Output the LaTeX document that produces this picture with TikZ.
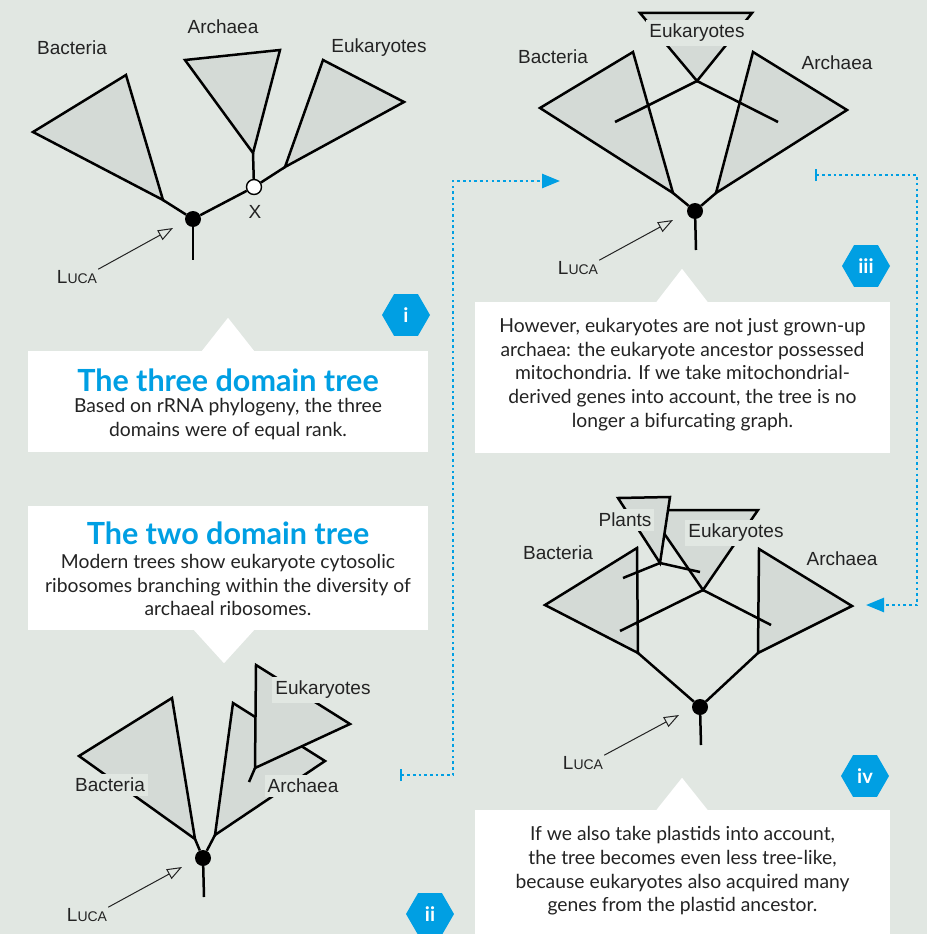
\documentclass[tikz,border=0pt]{standalone}
\usepackage{fontspec}
\setmainfont{Lato}
\newfontfamily\treefont{Liberation Sans}
\usepackage{tikz}
\usetikzlibrary{arrows.meta, shapes.geometric, positioning}
\definecolor{paper}{RGB}{225,231,226}
\definecolor{cladegray}{RGB}{212,218,214}
\definecolor{sciblue}{RGB}{0,159,227}
\definecolor{ink}{RGB}{35,35,35}
\newcommand{\luca}{L{\fontsize{14}{14}\selectfont UCA}}

\begin{document}
\begin{tikzpicture}[x=1pt, y=-1pt]
	% ------------------------------------------------------------------
	% BACKGROUND
	% ------------------------------------------------------------------
	\fill[paper] (0,0) rectangle (927,934);
	\useasboundingbox (0,0) rectangle (927,934);
	
	% ------------------------------------------------------------------
	% STYLE DEFINITIONS
	% ------------------------------------------------------------------
	\tikzset{
		clade/.style     = {draw=black, fill=cladegray, line width=2.5pt, line join=miter},
		branch/.style    = {line width=2.5pt},
		lca/.style       = {circle, fill=black, inner sep=0pt, minimum size=16pt},
		split/.style     = {circle, draw=black, fill=white, line width=1.4pt, inner sep=0pt, minimum size=15pt},
		taxon/.style     = {font=\treefont\fontsize{19}{20}\selectfont, text=ink, inner sep=2pt},
		taxonbg/.style   = {taxon, fill=paper, inner xsep=3pt, inner ysep=4pt},
		lucalabel/.style = {font=\treefont\fontsize{19}{19}\selectfont, text=ink, inner sep=1pt},
		lucaarrow/.style = {draw=ink, line width=1pt, -{Triangle[open, length=15pt, width=11pt]}},
		badge/.style     = {regular polygon, regular polygon sides=6, fill=sciblue, minimum size=48pt,
		                    inner sep=0pt, text=white, font=\bfseries\fontsize{20}{20}\selectfont},
		card/.style      = {fill=white, inner sep=0pt},
		title/.style     = {text=sciblue, font=\bfseries\fontsize{30.5}{31}\selectfont},
		blurb/.style     = {align=center, text=ink, font=\fontsize{19.3}{23.7}\selectfont},
		flow/.style      = {draw=sciblue, line width=2.6pt, dash pattern=on 2.6pt off 3.1pt,
		                    {Bar[width=12pt, line width=2pt]}-{Triangle[length=18pt, width=14pt]}}
	}
	
	% ------------------------------------------------------------------
	% (i) THREE DOMAIN TREE
	% ------------------------------------------------------------------
	\node[lca] (lca-i) at (193,219) {};
	\node[split] (x-i) at (254,187) {};
	\coordinate (root-i) at (193,260);
	\coordinate (bac-i) at (163,200);
	\coordinate (arc-i) at (253,153);
	\coordinate (euk-i) at (285,167);
	\draw[clade] (33,132) -- (126,75) -- (bac-i) -- cycle;
	\draw[clade] (185,60) -- (280,50) -- (arc-i) -- cycle;
	\draw[clade] (323,60) -- (404,102) -- (euk-i) -- cycle;
	\draw[branch] (lca-i) -- (root-i);
	\draw[branch] (lca-i) -- (bac-i);
	\draw[branch] (lca-i) -- (x-i);
	\draw[branch] (x-i) -- (arc-i);
	\draw[branch] (x-i) -- (euk-i);
	\node[taxon] (bac-i-lab) at (72,48) {Bacteria};
	\node[taxon] (arc-i-lab) at (223,27) {Archaea};
	\node[taxon] (euk-i-lab) at (379,48) {Eukaryotes};
	\node[taxon] (x-i-lab) at (255,212) {X};
	% LUCA pointer
	\node[lucalabel] (luca-i) at (77,277) {\luca};
	\coordinate (luca-i-tip) at (173,228);
	\draw[lucaarrow] (luca-i.north east) -- (luca-i-tip);
	\node[badge] (badge-i) at (406,315) {i};
	
	% caption box (i)
	\node[card, minimum width=400pt, minimum height=101pt] (card-i) at (228,401.5) {};
	\fill[white] ([xshift=-26pt]card-i.north) -- ([yshift=33pt]card-i.north) -- ([xshift=26pt]card-i.north) -- cycle;
	\node[title] (title-i) at (228,380) {The three domain tree};
	\node[blurb] (blurb-i) at (228,419) {Based on rRNA phylogeny, the three\\domains were of equal rank.};
	
	% ------------------------------------------------------------------
	% (ii) TWO DOMAIN TREE
	% ------------------------------------------------------------------
	\node[card, minimum width=400pt, minimum height=124pt] (card-ii) at (228,568) {};
	\fill[white] ([xshift=-34pt]card-ii.south) -- ([xshift=-4pt, yshift=-33pt]card-ii.south) -- ([xshift=26pt]card-ii.south) -- cycle;
	\node[title] (title-ii) at (228,533) {The two domain tree};
	\node[blurb] (blurb-ii) at (228,585) {Modern trees show eukaryote cytosolic\\ribosomes branching within the diversity of\\archaeal ribosomes.};
	
	\node[lca] (lca-ii) at (203,858) {};
	\coordinate (root-ii) at (204,897);
	\coordinate (bac-ii) at (195,839);
	\coordinate (arc-ii) at (215,835);
	\coordinate (euk-ii) at (255,768);
	\coordinate (euk-ii-stem) at (249,782);
	\draw[clade] (79,756) -- (172,698) -- (bac-ii) -- cycle;
	\draw[clade] (233,703) -- (325,761) -- (arc-ii) -- cycle;
	\draw[clade] (256,665) -- (350,724) -- (euk-ii) -- cycle;
	\draw[branch] (euk-ii-stem) -- (euk-ii);
	\draw[branch] (lca-ii) -- (root-ii);
	\draw[branch] (lca-ii) -- (bac-ii);
	\draw[branch] (lca-ii) -- (arc-ii);
	\node[taxonbg] (bac-ii-lab) at (110,785) {Bacteria};
	\node[taxonbg] (arc-ii-lab) at (303,786) {Archaea};
	\node[taxonbg] (euk-ii-lab) at (323,690) {Eukaryotes};
	\node[lucalabel] (luca-ii) at (87,915) {\luca};
	\coordinate (luca-ii-tip) at (182,867);
	\draw[lucaarrow] (luca-ii.north east) -- (luca-ii-tip);
	\node[badge] (badge-ii) at (430,914) {ii};
	
	% ------------------------------------------------------------------
	% (iii) MITOCHONDRIA
	% ------------------------------------------------------------------
	\node[lca] (lca-iii) at (695,211) {};
	\coordinate (root-iii) at (696,250);
	\coordinate (bac-iii) at (673,193);
	\coordinate (arc-iii) at (716,193);
	\coordinate (euk-iii) at (697,81);
	\draw[clade] (540,108) -- (633,52) -- (bac-iii) -- cycle;
	\draw[clade] (753,52) -- (847,110) -- (arc-iii) -- cycle;
	\draw[clade] (640,13) -- (752,13) -- (euk-iii) -- cycle;
	\draw[branch] (euk-iii) -- (615,122);
	\draw[branch] (euk-iii) -- (778,122);
	\draw[branch] (lca-iii) -- (root-iii);
	\draw[branch] (lca-iii) -- (bac-iii);
	\draw[branch] (lca-iii) -- (arc-iii);
	\node[taxon] (bac-iii-lab) at (553,57) {Bacteria};
	\node[taxon] (arc-iii-lab) at (837,63) {Archaea};
	\node[taxonbg] (euk-iii-lab) at (697,33) {Eukaryotes};
	\node[lucalabel] (luca-iii) at (578,268) {\luca};
	\coordinate (luca-iii-tip) at (673,220);
	\draw[lucaarrow] (luca-iii.north east) -- (luca-iii-tip);
	\node[badge] (badge-iii) at (866,266) {iii};
	
	% caption box (iii)
	\node[card, minimum width=415pt, minimum height=151pt] (card-iii) at (682.5,377.5) {};
	\fill[white] ([xshift=-26pt]card-iii.north) -- ([xshift=-0.5pt, yshift=33pt]card-iii.north) -- ([xshift=25pt]card-iii.north) -- cycle;
	\node[blurb] (blurb-iii) at (682.5,374.5) {However, eukaryotes are not just grown-up\\archaea: the eukaryote ancestor possessed\\mitochondria. If we take mitochondrial-\\derived genes into account, the tree is no\\longer a bifurcating graph.};
	
	% ------------------------------------------------------------------
	% (iv) PLASTIDS
	% ------------------------------------------------------------------
	\node[lca] (lca-iv) at (700,707) {};
	\coordinate (root-iv) at (701,745);
	\coordinate (bac-iv) at (638,653);
	\coordinate (arc-iv) at (758,653);
	\coordinate (euk-iv) at (703,590);
	\coordinate (pla-iv) at (660,563);
	\draw[clade] (545,605) -- (637,548) -- (bac-iv) -- cycle;
	\draw[clade] (759,549) -- (852,606) -- (arc-iv) -- cycle;
	\draw[clade] (648,510) -- (758,510) -- (euk-iv) -- cycle;
	\draw[clade] (618,498) -- (670,497) -- (pla-iv) -- cycle;
	\draw[branch] (pla-iv) -- (623,578);
	\draw[branch] (pla-iv) -- (700,572);
	\draw[branch] (euk-iv) -- (620,631);
	\draw[branch] (euk-iv) -- (771,625);
	\draw[branch] (lca-iv) -- (root-iv);
	\draw[branch] (lca-iv) -- (bac-iv);
	\draw[branch] (lca-iv) -- (arc-iv);
	\node[taxon] (bac-iv-lab) at (558,553) {Bacteria};
	\node[taxon] (arc-iv-lab) at (842,559) {Archaea};
	\node[taxonbg] (pla-iv-lab) at (625,520) {Plants};
	\node[taxonbg] (euk-iv-lab) at (736,533) {Eukaryotes};
	\node[lucalabel] (luca-iv) at (583,763) {\luca};
	\coordinate (luca-iv-tip) at (679,715);
	\draw[lucaarrow] (luca-iv.north east) -- (luca-iv-tip);
	\node[badge] (badge-iv) at (865,776) {iv};
	
	% caption box (iv)
	\node[card, minimum width=415pt, minimum height=130pt] (card-iv) at (682.5,875) {};
	\fill[white] ([xshift=-26pt]card-iv.north) -- ([xshift=-0.5pt, yshift=32pt]card-iv.north) -- ([xshift=25pt]card-iv.north) -- cycle;
	\node[blurb] (blurb-iv) at (682.5,871) {If we also take plastids into account,\\the tree becomes even less tree-like,\\because eukaryotes also acquired many\\genes from the plastid ancestor.};
	
	% ------------------------------------------------------------------
	% FLOW CONNECTORS
	% ------------------------------------------------------------------
	\coordinate (flow-ii-out) at (400,775);
	\coordinate (flow-iii-in) at (560,181);
	\draw[flow] (flow-ii-out) -- ++(53,0) |- (flow-iii-in);
	\coordinate (flow-iii-out) at (815,175);
	\coordinate (flow-iv-in) at (866,605);
	\draw[flow] (flow-iii-out) -- ++(102,0) |- (flow-iv-in);
	
\end{tikzpicture}
\end{document}
